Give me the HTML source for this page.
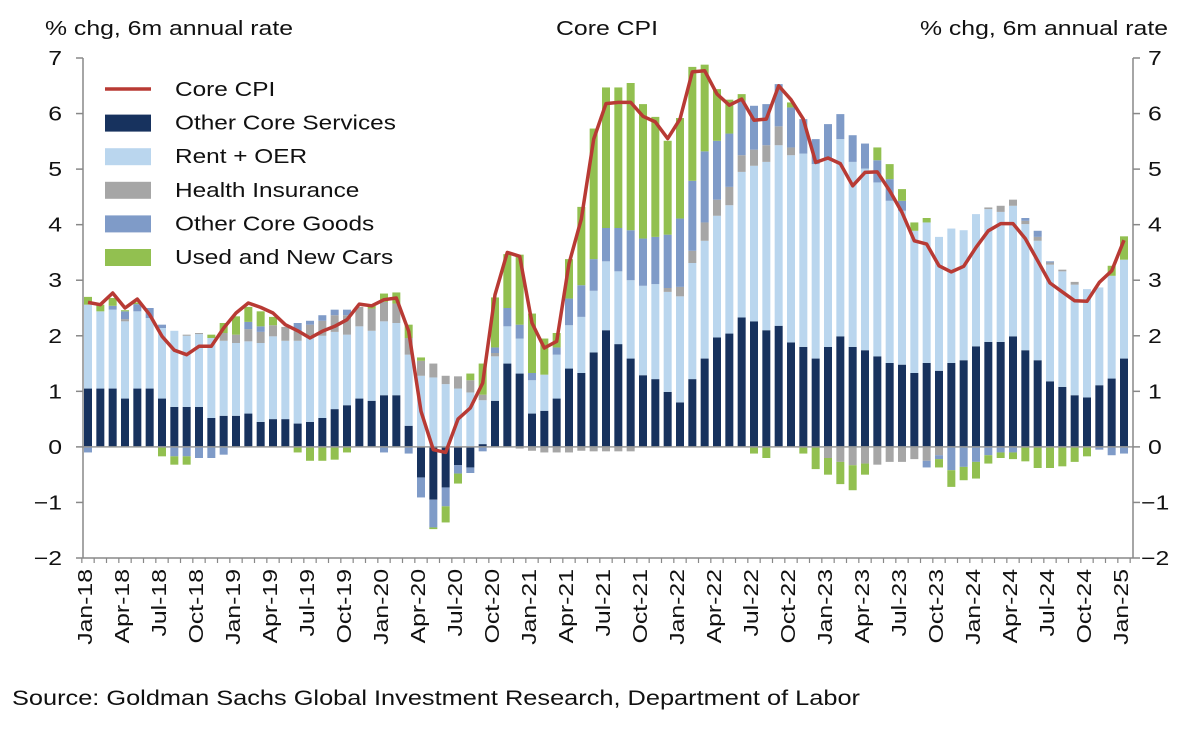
<!DOCTYPE html>
<html><head><meta charset="utf-8"><style>
body{margin:0;background:#fff;}
svg text{font-family:"Liberation Sans",Arial,sans-serif;fill:#111;}
</style></head><body>
<svg id="chart" width="1200" height="726" viewBox="0 0 1200 726" xmlns="http://www.w3.org/2000/svg">
<text font-size="20" text-anchor="middle" transform="translate(607,35) scale(1.24,1)">Core CPI</text>
<text font-size="20" transform="translate(45,35) scale(1.24,1)">% chg, 6m annual rate</text>
<text font-size="20" text-anchor="end" transform="translate(1168,35) scale(1.24,1)">% chg, 6m annual rate</text>
<g id="bars"></g>
<g id="axes"></g>
<g id="line"></g>
<g id="legend"></g>
<text x="12" y="705" font-size="21" textLength="848" lengthAdjust="spacingAndGlyphs">Source: Goldman Sachs Global Investment Research, Department of Labor</text>
</svg>
<script>
const months = ["Jan","Feb","Mar","Apr","May","Jun","Jul","Aug","Sep","Oct","Nov","Dec"];
const svc = [1.05,1.05,1.05,0.87,1.05,1.05,0.87,0.72,0.72,0.72,0.52,0.56,0.56,0.6,0.45,0.5,0.5,0.42,0.45,0.52,0.68,0.75,0.87,0.83,0.93,0.93,0.38,-0.55,-0.95,-0.73,-0.33,-0.37,0.05,0.83,1.5,1.32,0.6,0.65,0.87,1.41,1.33,1.7,2.1,1.85,1.59,1.29,1.22,0.99,0.8,1.22,1.59,1.97,2.04,2.33,2.26,2.1,2.18,1.88,1.8,1.59,1.8,1.99,1.8,1.74,1.63,1.51,1.48,1.33,1.51,1.37,1.51,1.56,1.81,1.89,1.89,1.99,1.74,1.56,1.18,1.08,0.93,0.89,1.11,1.23,1.59];
const rent = [1.51,1.39,1.42,1.39,1.39,1.27,1.27,1.37,1.28,1.31,1.44,1.35,1.31,1.3,1.42,1.49,1.41,1.49,1.55,1.48,1.39,1.27,1.3,1.26,1.33,1.3,1.28,1.28,1.25,1.13,1.05,0.98,0.79,0.8,0.67,0.63,0.6,0.65,0.79,0.78,1.01,1.11,1.24,1.31,1.41,1.61,1.71,1.8,1.91,2.09,2.12,2.19,2.31,2.62,2.8,3.03,3.25,3.37,3.48,3.5,3.39,3.55,3.33,3.27,3.13,2.92,2.77,2.56,2.53,2.41,2.42,2.34,2.38,2.39,2.34,2.35,2.27,2.15,2.1,2.08,1.99,1.95,1.76,1.85,1.78];
const health = [0,0,0,0.04,0,0,0,0,0.02,0.02,0,0.14,0.15,0.22,0.2,0.2,0.25,0.17,0.2,0.27,0.3,0.35,0.35,0.4,0.35,0.35,0.3,0.27,0.25,0.15,0.22,0.22,0.1,0.06,0,-0.03,-0.07,-0.1,-0.1,-0.1,-0.07,-0.08,-0.08,-0.08,-0.08,0,0,0.07,0.17,0.22,0.33,0.29,0.33,0.3,0.29,0.3,0.34,0.14,0,0,-0.2,-0.27,-0.33,-0.3,-0.32,-0.27,-0.27,-0.22,-0.25,-0.15,0,0,0,0.03,0.11,0.11,0.06,0.07,0.04,0.03,0.05,0,0,0,0];
const goods = [-0.1,0,0.07,0.14,0.13,0.18,0.06,-0.17,-0.17,-0.2,-0.2,-0.14,0,0.13,0.1,0,0,0.15,0.07,0.1,0.1,0.1,0,0,-0.1,0,-0.12,-0.36,-0.5,-0.34,-0.15,-0.1,-0.08,0.1,0.33,0.25,0.13,0,0.13,0.48,0.57,0.57,0.6,0.78,0.9,0.85,0.85,0.96,1.23,1.26,1.28,1.06,0.96,0.98,0.79,0.74,0.76,0.72,0.62,0.45,0.62,0.45,0.48,0.45,0.4,0.39,0.18,0,-0.12,-0.07,-0.42,-0.36,-0.27,-0.15,-0.1,-0.1,0.05,0.11,0.02,0,0,0,-0.05,-0.15,-0.12];
const cars = [0.14,0.12,0.14,0.02,0.03,0,-0.17,-0.15,-0.15,0,0.06,0.18,0.33,0.27,0.27,0.15,0,-0.1,-0.25,-0.25,-0.23,-0.1,0,0.05,0.15,0.2,0.24,0.06,-0.03,-0.29,-0.18,0.12,0.56,0.9,0.97,1.26,1.07,0.65,0.26,0.71,1.41,2.35,2.53,2.53,2.65,2.42,2.16,1.69,1.81,2.05,1.56,0.93,0.61,0.12,-0.12,-0.2,0,0.09,-0.12,-0.4,-0.3,-0.4,-0.45,-0.2,0.23,0.27,0.21,0.15,0.08,-0.15,-0.3,-0.24,-0.3,-0.15,-0.1,-0.12,-0.26,-0.38,-0.38,-0.35,-0.27,-0.17,0,0.18,0.42];
const coreCPI = [2.6,2.56,2.77,2.5,2.66,2.38,1.99,1.74,1.66,1.81,1.81,2.14,2.41,2.59,2.51,2.41,2.2,2.09,1.96,2.08,2.17,2.29,2.57,2.54,2.65,2.68,2.08,0.64,-0.05,-0.1,0.5,0.7,1.15,2.74,3.5,3.43,2.23,1.78,1.9,3.3,4.1,5.54,6.18,6.2,6.2,5.95,5.85,5.55,5.9,6.75,6.77,6.35,6.15,6.26,5.88,5.9,6.5,6.25,5.9,5.12,5.2,5.1,4.7,4.94,4.95,4.61,4.22,3.71,3.65,3.26,3.15,3.25,3.59,3.89,4.02,4.02,3.75,3.35,2.95,2.79,2.63,2.62,2.96,3.17,3.72];
const yTicks = [-2,-1,0,1,2,3,4,5,6,7];

const NS="http://www.w3.org/2000/svg";
const X0=83, X1=1133, Y7=58, Ym2=558;
const step=(1124-88)/84;
function xPos(i){return 88+i*step;}
function yPos(v){return Ym2-(v+2)*(Ym2-Y7)/9;}
function mk(tag,attrs,parent){const e=document.createElementNS(NS,tag);for(const k in attrs)e.setAttribute(k,attrs[k]);parent.appendChild(e);return e;}

const series=[
 {vals:svc,color:"#17325e",name:"svc"},
 {vals:rent,color:"#bad6ee",name:"rent"},
 {vals:health,color:"#a6a6a6",name:"health"},
 {vals:goods,color:"#7f9bc8",name:"goods"},
 {vals:cars,color:"#92c050",name:"cars"}];
const barsG=document.getElementById('bars');
const bw=8;
for(let i=0;i<svc.length;i++){
  let pos=0,neg=0;
  for(const s of series){
    const v=s.vals[i]; if(!v) continue;
    let a,b;
    if(v>0){a=pos;b=pos+v;pos=b;}else{a=neg;b=neg+v;neg=b;}
    const r=mk('rect',{x:xPos(i)-bw/2,y:Math.min(yPos(a),yPos(b)),width:bw,height:Math.abs(yPos(a)-yPos(b)),fill:s.color},barsG);
    
    
  }
}
const ax=document.getElementById('axes');
const zl=mk('line',{x1:X0,x2:X1,y1:yPos(0),y2:yPos(0),stroke:"#999","stroke-width":1.5},ax);


mk('line',{x1:X0,x2:X0,y1:Y7,y2:Ym2,stroke:"#888","stroke-width":1.5},ax);
mk('line',{x1:X1,x2:X1,y1:Y7,y2:Ym2,stroke:"#888","stroke-width":1.5},ax);
mk('line',{x1:X0,x2:X1,y1:Ym2,y2:Ym2,stroke:"#888","stroke-width":1.5},ax);
for(const t of yTicks){
  const y=yPos(t);
  mk('line',{x1:X0-7,x2:X0,y1:y,y2:y,stroke:"#888","stroke-width":1.5},ax);
  mk('line',{x1:X1,x2:X1+7,y1:y,y2:y,stroke:"#888","stroke-width":1.5},ax);
  const lbl=t<0?"\u2212"+(-t):String(t);
  const tl=mk('text',{"font-size":20,"text-anchor":"end",transform:`translate(62,${y+7}) scale(1.24,1)`},ax); tl.textContent=lbl;
  
  
  const tr=mk('text',{"font-size":20,transform:`translate(${t<0?1141:1148},${y+7}) scale(1.24,1)`},ax); tr.textContent=lbl;
  
  
}
for(let i=0;i<=coreCPI.length;i++){
  const x=88+(i-0.5)*step;
  mk('line',{x1:x,x2:x,y1:Ym2,y2:Ym2+5,stroke:"#888","stroke-width":1.2},ax);
}
for(let i=0;i<coreCPI.length;i+=3){
  const yr=18+Math.floor(i/12);
  const t=mk('text',{"font-size":20,"text-anchor":"end",transform:`translate(${xPos(i)+4},569) rotate(-90) scale(1.24,1)`},ax);
  t.textContent=months[i%12]+"-"+yr;
  
  
}
const lg=document.getElementById('line');
const pts=coreCPI.map((v,i)=>xPos(i).toFixed(1)+","+yPos(v).toFixed(1)).join(" ");
const pl=mk('polyline',{points:pts,fill:"none",stroke:"#b83a34","stroke-width":3.5,"stroke-linejoin":"round"},lg);



const legendItems=[["Core CPI","#b83a34",true],["Other Core Services","#17325e"],["Rent + OER","#bad6ee"],["Health Insurance","#a6a6a6"],["Other Core Goods","#7f9bc8"],["Used and New Cars","#92c050"]];
const leg=document.getElementById('legend');
legendItems.forEach((it,k)=>{
  const y=89+k*33.6;
  const g=mk('g',{},leg);
  
  
  if(it[2]) mk('line',{x1:105,x2:151,y1:y,y2:y,stroke:it[1],"stroke-width":3.5},g);
  else mk('rect',{x:105,y:y-8,width:46,height:17,fill:it[1]},g);
  const t=mk('text',{"font-size":20,transform:`translate(175,${y+7}) scale(1.22,1)`},g); t.textContent=it[0];
});
</script>
</body></html>
